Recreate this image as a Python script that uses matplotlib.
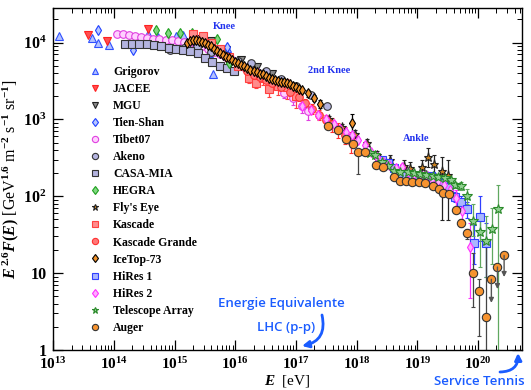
import numpy as np
import matplotlib.pyplot as plt
from matplotlib.lines import Line2D
from matplotlib.ticker import FixedLocator, FixedFormatter, LogLocator, FuncFormatter, NullFormatter

plt.rcParams['font.family'] = 'Liberation Serif'
plt.rcParams['font.weight'] = 'bold'
plt.rcParams['mathtext.fontset'] = 'custom'
plt.rcParams['mathtext.rm'] = 'Liberation Serif:bold'
plt.rcParams['mathtext.it'] = 'Liberation Serif:italic:bold'
plt.rcParams['mathtext.bf'] = 'Liberation Serif:bold'

# ---- data: log10(E/eV) and E^2.6 F(E) ----
grig_e = [13.10, 13.64, 13.74, 13.92, 14.56, 14.72, 15.02, 15.14, 15.56, 15.64, 15.87]
grig_y = [1.2e4, 1.15e4, 1.0e4, 9.2e3, 1.3e4, 1.17e4, 1.2e4, 1.25e4, 7.2e3, 3.9e3, 8.5e3]

jacee_e = [13.57, 13.89, 14.56]
jacee_y = [1.25e4, 1.05e4, 1.5e4]

mgu_e = [15.35, 15.6, 15.85, 16.1, 16.35, 16.6]
mgu_y = [1.12e4, 1.05e4, 8.0e3, 6.0e3, 4.8e3, 3.9e3]

tien_e = [13.73, 14.31, 15.87]
tien_y = [1.45e4, 8.0e3, 8.7e3]

tibet_e = [14.05, 14.15, 14.25, 14.35, 14.45, 14.55, 14.65, 14.75, 14.85, 14.95,
           15.05, 15.15, 15.25, 15.35, 15.45, 15.55, 15.65, 15.75, 15.85, 15.95,
           16.05, 16.15, 16.25, 16.35, 16.5, 16.65, 16.8, 16.95, 17.1, 17.2]
tibet_y = [1.3e4, 1.28e4, 1.24e4, 1.2e4, 1.17e4, 1.14e4, 1.12e4, 1.1e4, 1.08e4, 1.07e4,
           1.05e4, 1.03e4, 1.0e4, 9.6e3, 9.0e3, 8.3e3, 7.6e3, 7.0e3, 6.4e3, 5.9e3,
           5.3e3, 4.8e3, 4.4e3, 4.1e3, 3.5e3, 2.8e3, 2.2e3, 1.9e3, 1.5e3, 1.3e3]
tibet_err = [0.02, 0.02, 0.02, 0.02, 0.02, 0.02, 0.02, 0.02, 0.02, 0.02,
             0.02, 0.02, 0.02, 0.02, 0.02, 0.02, 0.03, 0.03, 0.03, 0.04,
             0.04, 0.05, 0.06, 0.08, 0.1, 0.12, 0.15, 0.18, 0.2, 0.25]

akeno_e = [14.92, 15.15, 15.36, 15.6, 15.85, 16.05, 16.26, 16.5, 16.75, 17.0, 17.25, 17.51]
akeno_y = [8.0e3, 8.6e3, 8.7e3, 7.6e3, 6.6e3, 5.7e3, 5.4e3, 4.3e3, 3.4e3, 2.7e3, 2.05e3, 1.5e3]

casa_e = [14.18, 14.30, 14.42, 14.54, 14.66, 14.78, 14.90, 15.02, 15.14, 15.26,
          15.38, 15.50, 15.62, 15.74, 15.86, 15.98]
casa_y = [9.7e3, 9.7e3, 9.7e3, 9.6e3, 9.4e3, 9.0e3, 8.6e3, 8.3e3, 8.0e3, 7.7e3,
          7.2e3, 6.3e3, 5.5e3, 4.9e3, 4.6e3, 4.3e3]

hegra_e = [14.70, 14.89, 15.08, 15.29, 15.70, 15.90]
hegra_y = [1.45e4, 1.35e4, 1.32e4, 1.32e4, 1.12e4, 5.4e3]

fly_e = [17.55, 17.75, 17.98, 18.17, 18.34, 18.55, 18.78, 18.88, 19.07, 19.18, 19.28, 19.40, 19.50]
fly_y = [1.0e3, 8.0e2, 6.5e2, 5.0e2, 3.4e2, 2.95e2, 2.5e2, 2.3e2, 2.4e2, 3.2e2, 2.6e2, 2.1e2, 1.9e2]
fly_lo = [900, 720, 580, 450, 300, 255, 210, 190, 190, 240, 200, 49, 49]
fly_hi = [1100, 880, 720, 560, 390, 340, 300, 280, 300, 420, 340, 320, 300]

kas_e = [15.3, 15.46, 15.6, 15.75, 15.9, 16.05, 16.23, 16.34, 16.45, 16.56, 16.7, 16.85, 17.0]
kas_y = [1.3e4, 1.23e4, 1.0e4, 8.2e3, 6.5e3, 5.0e3, 3.5e3, 3.0e3, 3.5e3, 2.45e3, 2.75e3, 2.6e3, 2.0e3]
kas_err = [0.08, 0.08, 0.08, 0.1, 0.1, 0.12, 0.15, 0.15, 0.2, 0.2, 0.25, 0.3, 0.3]

kg_e = [16.2, 16.3, 16.4, 16.5, 16.6, 16.75, 16.9, 17.05, 17.15, 17.26, 17.38, 17.49,
        17.6, 17.7, 17.8, 17.9]
kg_y = [4.2e3, 3.8e3, 3.6e3, 3.25e3, 2.95e3, 2.6e3, 2.25e3, 1.95e3, 1.65e3, 1.38e3,
        1.15e3, 9.8e2, 8.6e2, 7.4e2, 6.3e2, 5.2e2]
kg_err = [0.05, 0.05, 0.06, 0.07, 0.08, 0.1, 0.1, 0.12, 0.12, 0.15, 0.15, 0.18,
          0.2, 0.22, 0.25, 0.3]

ice_e = [15.20, 15.25, 15.30, 15.35, 15.40, 15.45, 15.50, 15.55, 15.60, 15.65,
         15.70, 15.75, 15.80, 15.85, 15.90, 15.95, 16.00, 16.05, 16.10, 16.15,
         16.20, 16.25, 16.30, 16.35, 16.40, 16.45, 16.50, 16.55, 16.60, 16.65,
         16.70, 16.75, 16.80, 16.85, 16.90, 16.95, 17.00, 17.05, 17.10, 17.20,
         17.30, 17.40, 17.93]
ice_y = [1.00e4, 1.04e4, 1.07e4, 1.07e4, 1.05e4, 1.02e4, 9.8e3, 9.3e3, 8.9e3, 8.3e3,
         7.8e3, 7.2e3, 6.8e3, 6.4e3, 6.2e3, 5.9e3, 5.6e3, 5.4e3, 5.1e3, 4.9e3,
         4.7e3, 4.45e3, 4.25e3, 4.1e3, 3.95e3, 3.85e3, 3.7e3, 3.5e3, 3.4e3, 3.3e3,
         3.2e3, 3.1e3, 3.05e3, 2.95e3, 2.85e3, 2.75e3, 2.6e3, 2.5e3, 2.4e3, 2.2e3,
         1.9e3, 1.6e3, 9.1e2]
ice_err = [0.02, 0.02, 0.02, 0.02, 0.02, 0.02, 0.02, 0.02, 0.02, 0.02,
           0.02, 0.02, 0.02, 0.02, 0.02, 0.02, 0.02, 0.02, 0.02, 0.02,
           0.03, 0.03, 0.03, 0.03, 0.03, 0.03, 0.03, 0.04, 0.04, 0.04,
           0.04, 0.05, 0.05, 0.05, 0.06, 0.06, 0.07, 0.07, 0.08, 0.1,
           0.1, 0.12, 0.3]

hr1_e = [18.42, 18.52, 18.62, 18.72, 18.82, 18.92, 19.02, 19.12, 19.23, 19.33,
         19.43, 19.52, 19.62, 19.72, 19.82, 19.93, 20.03, 20.13]
hr1_y = [300, 270, 230, 200, 185, 175, 170, 168, 186, 165, 150, 130, 98, 85, 68, 25, 54, 25]
hr1_lo = [290, 260, 222, 193, 178, 168, 162, 159, 175, 153, 137, 116, 84, 70, 52, 13, 26, 9]
hr1_hi = [310, 280, 238, 207, 192, 182, 178, 177, 197, 177, 163, 144, 112, 100, 84, 42, 100, 45]

hr2_e = [17.10, 17.24, 17.37, 17.49, 17.62, 17.73, 17.83, 17.93, 18.03, 18.14,
         18.24, 18.34, 18.44, 18.54, 18.64, 18.74, 18.84, 18.94, 19.04, 19.14,
         19.24, 19.34, 19.44, 19.54, 19.64, 19.74, 19.87]
hr2_y = [1500, 1320, 1150, 1020, 880, 760, 690, 620, 540, 460,
         380, 320, 280, 255, 230, 240, 205, 195, 190, 190,
         170, 160, 140, 120, 95, 65, 22]
hr2_lo = [1380, 1220, 1070, 950, 820, 710, 645, 580, 505, 430,
          355, 298, 260, 236, 212, 215, 185, 175, 170, 168,
          148, 136, 115, 95, 70, 45, 4.7]
hr2_hi = [1620, 1420, 1230, 1090, 940, 810, 735, 660, 575, 490,
          405, 342, 300, 274, 248, 265, 225, 215, 210, 212,
          192, 184, 165, 145, 120, 88, 45]

ta_e = [18.22, 18.31, 18.41, 18.52, 18.62, 18.72, 18.85, 18.95, 19.05, 19.15,
        19.25, 19.34, 19.45, 19.55, 19.62, 19.72, 19.82, 19.92, 20.03, 20.13,
        20.23, 20.33]
ta_y = [370, 340, 280, 245, 215, 205, 205, 200, 195, 190,
        185, 178, 175, 165, 140, 138, 100, 48, 34, 26, 37, 68]
ta_lo = [360, 330, 272, 238, 208, 198, 198, 193, 188, 182,
         177, 170, 165, 155, 128, 122, 80, 30, 12, 9, 13, 1]
ta_hi = [380, 350, 288, 252, 222, 212, 212, 207, 202, 198,
         193, 186, 185, 175, 152, 154, 125, 80, 60, 55, 70, 140]

auger_e = [17.53, 17.69, 17.83, 17.94, 18.03, 18.13, 18.32, 18.43, 18.62, 18.72,
           18.82, 18.92, 19.03, 19.13, 19.25, 19.36, 19.43, 19.52, 19.63, 19.72,
           19.82, 19.92, 20.02, 20.13]
auger_y = [830, 720, 560, 480, 380, 380, 257, 240, 178, 158,
           158, 155, 155, 148, 138, 126, 110, 107, 66, 45, 33, 10, 5.8, 2.7]
auger_lo = [800, 700, 545, 465, 195, 365, 248, 232, 172, 153,
            153, 150, 150, 143, 133, 121, 105, 102, 60, 40, 28, 3.6, 1.5, 1.0]
auger_hi = [860, 740, 575, 495, 395, 395, 266, 248, 184, 163,
            163, 160, 160, 153, 143, 131, 115, 112, 72, 50, 38, 18, 8.5, 23]
auger_ul_e = [20.22, 20.32, 20.43]
auger_ul_y = [8.3, 12.0, 17.0]
auger_ul_tip = [4.1, 6.2, 8.9]

fig = plt.figure(figsize=(5.31, 3.90), dpi=100)
ax = fig.add_axes([0.1004, 0.1026, 0.8821, 0.878])

handles = []


def plot_set(loge, y, marker, fc, ec, label, lo=None, hi=None, rel=None, ecol=None, ms=5.5):
    x = 10.0 ** np.array(loge)
    y = np.array(y, dtype=float)
    yerr = None
    if rel is not None:
        r = np.array(rel)
        yerr = [y * r, y * r]
    elif lo is not None:
        yerr = [y - np.array(lo), np.array(hi) - y]
    ax.errorbar(x, y, yerr=yerr, fmt=marker, ms=ms, mfc=fc, mec=ec, mew=0.8,
                ecolor=ecol or ec, elinewidth=0.9, capsize=1.5, capthick=0.8)
    handles.append(Line2D([], [], ls='none', marker=marker, ms=4.5, mfc=fc, mec=ec,
                          mew=0.8, label=label))


plot_set(grig_e, grig_y, '^', '#b3c2ff', '#3050ff', 'Grigorov')
plot_set(jacee_e, jacee_y, 'v', '#ff5050', '#ff2020', 'JACEE')
plot_set(mgu_e, mgu_y, 'v', '#8a8a8a', '#222222', 'MGU')
plot_set(tien_e, tien_y, 'd', '#b8c8ff', '#2040ff', 'Tien-Shan')
plot_set(tibet_e, tibet_y, 'o', '#ffd0ff', '#e040e0', 'Tibet07', rel=tibet_err)
plot_set(akeno_e, akeno_y, 'o', '#b4b4e0', '#333333', 'Akeno')
plot_set(casa_e, casa_y, 's', '#b4b4e0', '#333333', 'CASA-MIA')
plot_set(hegra_e, hegra_y, 'd', '#80d880', '#20a020', 'HEGRA')
plot_set(fly_e, fly_y, '*', '#c8801e', '#222222', "Fly's Eye", lo=fly_lo, hi=fly_hi, ms=6.5)
plot_set(kas_e, kas_y, 's', '#ff8c8c', '#ff4040', 'Kascade', rel=kas_err)
plot_set(kg_e, kg_y, 'o', '#ff7878', '#ff3030', 'Kascade Grande', rel=kg_err)
plot_set(ice_e, ice_y, 'd', '#f0922a', '#000000', 'IceTop-73', rel=ice_err, ms=5)
plot_set(hr1_e, hr1_y, 's', '#aab6ff', '#3040ff', 'HiRes 1', lo=hr1_lo, hi=hr1_hi)
plot_set(hr2_e, hr2_y, 'd', '#ffb0ff', '#ff30ff', 'HiRes 2', lo=hr2_lo, hi=hr2_hi)
plot_set(ta_e, ta_y, '*', '#90d090', '#2a8a2a', 'Telescope Array', lo=ta_lo, hi=ta_hi,
         ecol='#60a860', ms=7)
plot_set(auger_e, auger_y, 'o', '#f7932f', '#333333', 'Auger', lo=auger_lo, hi=auger_hi,
         ecol='#444444', ms=6)

# Auger upper limits
for e, y0, y1 in zip(auger_ul_e, auger_ul_y, auger_ul_tip):
    ax.annotate('', xy=(10 ** e, y1), xytext=(10 ** e, y0),
                arrowprops=dict(arrowstyle='-|>', color='#555555', lw=1.0,
                                mutation_scale=7, shrinkA=0, shrinkB=0))
ax.errorbar(10.0 ** np.array(auger_ul_e), auger_ul_y, fmt='o', ms=6, mfc='#f7932f',
            mec='#333333', mew=0.8)

ax.set_xscale('log')
ax.set_yscale('log')
ax.set_xlim(1e13, 10 ** 20.72)
ax.set_ylim(1, 2.85e4)

ax.xaxis.set_major_locator(FixedLocator([10.0 ** k for k in range(13, 21)]))
ax.xaxis.set_major_formatter(FuncFormatter(lambda v, p: r'$10^{%d}$' % round(np.log10(v))))
ax.xaxis.set_minor_locator(LogLocator(base=10, subs=np.arange(2, 10), numticks=60))
ax.xaxis.set_minor_formatter(NullFormatter())
ax.yaxis.set_major_locator(FixedLocator([1, 10, 100, 1000, 10000]))
ax.yaxis.set_major_formatter(FixedFormatter(['1', '10', r'$10^{2}$', r'$10^{3}$', r'$10^{4}$']))
ax.yaxis.set_minor_locator(LogLocator(base=10, subs=np.arange(2, 10), numticks=60))
ax.yaxis.set_minor_formatter(NullFormatter())

ax.tick_params(which='both', direction='in', top=True, right=True)
ax.tick_params(which='major', length=7, width=0.9, labelsize=11.5, pad=5)
ax.tick_params(axis='x', which='major', pad=4.5, labelsize=11)
ax.tick_params(which='minor', length=3.5, width=0.7)
for s in ax.spines.values():
    s.set_linewidth(1.0)

ax.set_ylabel(r'$E^{\,2.6}F(E)$ [GeV$^{1.6}$ m$^{-2}$ s$^{-1}$ sr$^{-1}$]', fontsize=11.5)
ax.yaxis.set_label_coords(-0.07, 0.5)
ax.set_xlabel(r'$E$  [eV]', fontsize=11, va='bottom')
ax.xaxis.set_label_coords(0.5, -0.114)

blue = '#2233ee'
ax.text(10 ** 15.82, 10 ** 4.21, 'Knee', color=blue, fontsize=7.5, ha='center', va='center')
ax.text(10 ** 17.54, 10 ** 3.64, '2nd Knee', color=blue, fontsize=7.5, ha='center', va='center')
ax.text(10 ** 18.98, 10 ** 2.75, 'Ankle', color=blue, fontsize=7.5, ha='center', va='center')

ax.legend(handles=handles, loc='upper left', bbox_to_anchor=(0.076, 0.83), frameon=False,
          fontsize=8.5, labelspacing=0.43, handlelength=1.0, handletextpad=1.03,
          borderpad=0, borderaxespad=0)

# blue annotations
cyan = '#1a5cff'
W, H = 531.0, 390.0
fig.text(281 / W, 1 - 303 / H, 'Energie Equivalente', color=cyan, fontsize=9.5,
         family='Open Sans', weight='semibold', ha='center', va='center')
fig.text(286 / W, 1 - 327 / H, 'LHC (p-p)', color=cyan, fontsize=9.5,
         family='Open Sans', weight='semibold', ha='center', va='center')
fig.text(479 / W, 1 - 381.5 / H, 'Service Tennis', color=cyan, fontsize=9.5,
         family='Open Sans', weight='semibold', ha='center', va='center')
ax.annotate('', xy=(302 / W, 1 - 346 / H), xytext=(322 / W, 1 - 315 / H),
            xycoords='figure fraction', textcoords='figure fraction',
            arrowprops=dict(arrowstyle='-|>', color=cyan, lw=2, mutation_scale=10,
                            connectionstyle='arc3,rad=-0.5', shrinkA=0, shrinkB=0))
ax.annotate('', xy=(518 / W, 1 - 353 / H), xytext=(500 / W, 1 - 372 / H),
            xycoords='figure fraction', textcoords='figure fraction',
            arrowprops=dict(arrowstyle='-|>', color=cyan, lw=2, mutation_scale=10,
                            connectionstyle='arc3,rad=0.5', shrinkA=0, shrinkB=0),
            annotation_clip=False)

fig.savefig('out.png', dpi=100)
